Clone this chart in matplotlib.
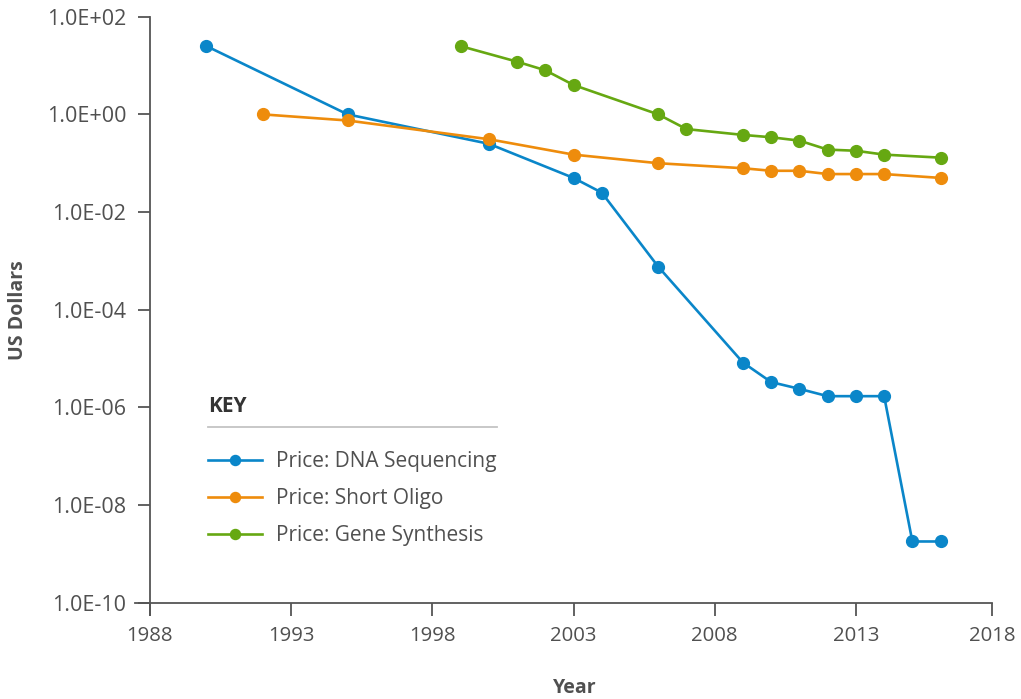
import matplotlib
matplotlib.use("Agg")
import matplotlib.pyplot as plt
from matplotlib.lines import Line2D

plt.rcParams['font.family'] = ['Open Sans', 'DejaVu Sans']

# Price per base (US dollars)
dna_years = [1990, 1995, 2000, 2003, 2004, 2006, 2009, 2010, 2011, 2012, 2013, 2014, 2015, 2016]
dna_price = [25, 1.0, 0.25, 0.05, 0.025, 7.6e-4, 8.3e-6, 3.3e-6, 2.4e-6, 1.7e-6, 1.7e-6, 1.7e-6, 1.8e-9, 1.8e-9]

oligo_years = [1992, 1995, 2000, 2003, 2006, 2009, 2010, 2011, 2012, 2013, 2014, 2016]
oligo_price = [1.0, 0.75, 0.31, 0.15, 0.10, 0.079, 0.07, 0.07, 0.06, 0.06, 0.06, 0.05]

gene_years = [1999, 2001, 2002, 2003, 2006, 2007, 2009, 2010, 2011, 2012, 2013, 2014, 2016]
gene_price = [25, 12, 8, 4, 1.0, 0.5, 0.38, 0.34, 0.29, 0.19, 0.18, 0.15, 0.13]

x_ticks = [1988, 1993, 1998, 2003, 2008, 2013, 2017.82]
x_labels = ['1988', '1993', '1998', '2003', '2008', '2013', '2018']
y_ticks = [1e2, 1e0, 1e-2, 1e-4, 1e-6, 1e-8, 1e-10]
y_labels = ['1.0E+02', '1.0E+00', '1.0E-02', '1.0E-04', '1.0E-06', '1.0E-08', '1.0E-10']

blue = '#0a86c9'
orange = '#ee8c0c'
green = '#66a812'
text_col = '#505050'
axis_col = '#555555'

fig = plt.figure(figsize=(10.21, 6.99), dpi=100)
ax = fig.add_axes([135 / 1021, 1 - 615 / 699, (992 - 135) / 1021, (615 - 16.7) / 699])

style = dict(lw=1.9, marker='o', markersize=8.5)
ax.plot(dna_years, dna_price, color=blue, label='Price: DNA Sequencing', **style)
ax.plot(oligo_years, oligo_price, color=orange, label='Price: Short Oligo', **style)
ax.plot(gene_years, gene_price, color=green, label='Price: Gene Synthesis', **style)

ax.set_yscale('log')
ax.set_xlim(1987.47, 2017.82)
ax.set_ylim(10 ** -10.25, 1e2)
ax.spines['left'].set_position(('data', 1988))
ax.spines['bottom'].set_position(('data', 1e-10))
ax.spines['top'].set_visible(False)
ax.spines['right'].set_visible(False)
for s in ('left', 'bottom'):
    ax.spines[s].set_color(axis_col)
    ax.spines[s].set_linewidth(1.3)

ax.set_xticks(x_ticks)
ax.set_xticklabels(x_labels)
ax.set_yticks(y_ticks)
ax.set_yticklabels(y_labels)
ax.yaxis.set_minor_locator(matplotlib.ticker.NullLocator())
ax.tick_params(length=9, width=1.3, color=axis_col, labelcolor=text_col)
ax.tick_params(axis='y', pad=8, labelsize=15.5)
ax.tick_params(axis='x', pad=8, labelsize=14.7)

fig.text(575 / 1021, 1 - 688 / 699, 'Year', ha='center', va='center',
         fontsize=14, fontweight='bold', color=text_col)
fig.text(18 / 1021, 1 - 310 / 699, 'US Dollars', ha='center', va='center',
         rotation=90, fontsize=14, fontweight='bold', color=text_col)

# key
fig.text(208 / 1021, 1 - 407 / 699, 'KEY', ha='left', va='center',
         fontsize=15, fontweight='bold', color='#333333')
fig.add_artist(Line2D([208 / 1021, 497 / 1021], [1 - 427 / 699, 1 - 427 / 699],
                      color='#c4c4c4', lw=1.3))
leg = ax.legend(loc='upper left', bbox_to_anchor=(208 / 1021, 1 - 451 / 699),
                bbox_transform=fig.transFigure, frameon=False, fontsize=15,
                handlelength=2.6, handletextpad=0.65, labelspacing=0.78,
                borderaxespad=0, borderpad=0, markerscale=0.85)
for t in leg.get_texts():
    t.set_color(text_col)

fig.savefig('out.png', dpi=100)
